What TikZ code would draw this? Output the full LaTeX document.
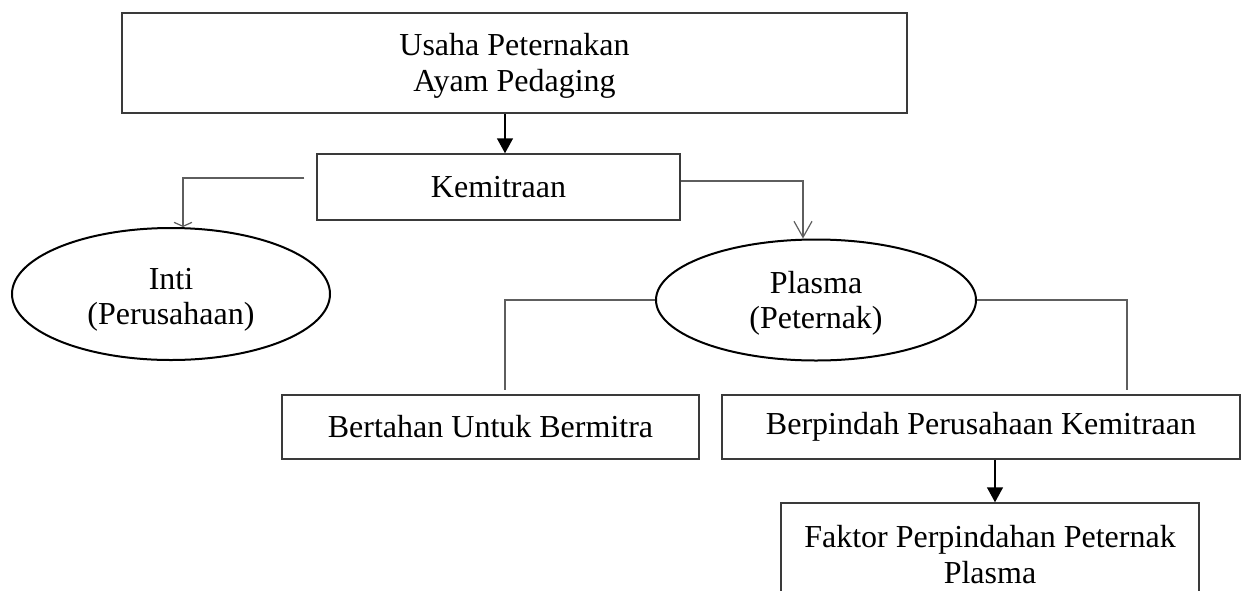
\documentclass[tikz,border=0pt]{standalone}
\usepackage{fontspec}
\setmainfont{Liberation Serif}
\usetikzlibrary{arrows.meta,shapes.geometric}
\definecolor{boxline}{HTML}{3A3A3A}
\definecolor{connline}{HTML}{5E5E5E}
\tikzset{
  box/.style={draw=boxline, line width=1.5pt, rectangle, inner sep=0pt, align=center,
    font=\fontsize{32}{36}\selectfont},
  oval/.style={draw=black, line width=2pt, ellipse, inner sep=0pt},
  ovaltext/.style={align=center, inner sep=0pt, font=\fontsize{32}{35}\selectfont},
  conn/.style={draw=connline, line width=1.2pt},
  arr/.style={draw=black, line width=1.5pt, -{Triangle[length=15pt,width=16pt]}},
  barb/.style={-{Straight Barb[length=16pt,width=18pt,line width=1.2pt]}},
  smallbarb/.style={-{Straight Barb[length=4pt,width=18pt,line width=1.2pt]}}
}
\begin{document}
\begin{tikzpicture}[x=1pt,y=-1pt]
\useasboundingbox[fill=white] (0,0) rectangle (1248,590);

% nodes
\node[box, minimum width=785pt, minimum height=100pt] (usaha) at (514.5,63) {\rule{0pt}{28pt}Usaha Peternakan\\Ayam Pedaging};
\node[box, minimum width=363pt, minimum height=66pt] (kem) at (498.5,187) {Kemitraan};
\node[oval, minimum width=318pt, minimum height=132pt,
  label={[ovaltext, name=intitext, yshift=-6pt]center:{Inti\\(Perusahaan)}}] (inti) at (171,294) {};
\node[oval, minimum width=320pt, minimum height=121pt,
  label={[ovaltext, name=plasmatext, yshift=-3pt]center:{Plasma\\(Peternak)}}] (plasma) at (816,300) {};
\node[box, minimum width=417pt, minimum height=64pt] (bert) at (490.5,427) {Bertahan Untuk Bermitra};
\node[box, minimum width=518pt, minimum height=64pt] (berp) at (981,427) {Berpindah Perusahaan Kemitraan};
\node[box, minimum width=418pt, minimum height=104pt] (fak) at (990,555) {Faktor Perpindahan Peternak\\Plasma};

% column guides
\coordinate (cA) at (505,0);
\coordinate (cL) at (183,0);
\coordinate (cR) at (803,0);
\coordinate (cPR) at (1127,0);
\coordinate (cB) at (995,0);
\coordinate (kl) at ([xshift=-12pt,yshift=9pt]kem.west);

% connectors
\draw[arr] (usaha.south -| cA) -- (kem.north -| cA);
\draw[conn, smallbarb] (kl) -| (cL |- inti.north);
\draw[conn, barb] ([yshift=6pt]kem.east) -| (cR |- plasma.north);
\draw[conn, shorten >=4pt] (plasma.west) -| (cA |- bert.north);
\draw[conn, shorten >=4pt] (plasma.east) -| (cPR |- berp.north);
\draw[arr] (berp.south -| cB) -- (fak.north -| cB);
\end{tikzpicture}
\end{document}
